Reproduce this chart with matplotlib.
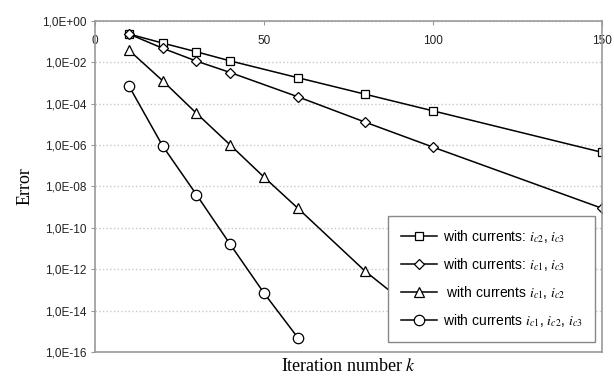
import numpy as np
import matplotlib.pyplot as plt
from matplotlib.ticker import FixedLocator, FuncFormatter

plt.rcParams['mathtext.fontset'] = 'stix'

# iteration numbers
k_sq = [10, 20, 30, 40, 60, 80, 100, 150]
k_di = [10, 20, 30, 40, 60, 80, 100, 150]
k_tr = [10, 20, 30, 40, 50, 60, 80, 100]
k_ci = [10, 20, 30, 40, 50, 60]

# log10 of the error
log_sq = [-0.64, -1.08, -1.5, -1.94, -2.75, -3.55, -4.35, -6.35]
log_di = [-0.64, -1.33, -1.95, -2.5, -3.67, -4.9, -6.1, -9.05]
log_tr = [-1.42, -2.9, -4.47, -6.0, -7.55, -9.05, -12.1, -14.7]
log_ci = [-3.15, -6.05, -8.4, -10.8, -13.15, -15.3]

labels = [r'with currents: $i_{c2}$, $i_{c3}$',
          r'with currents: $i_{c1}$, $i_{c3}$',
          r' with currents $i_{c1}$, $i_{c2}$',
          r'with currents $i_{c1}$, $i_{c2}$, $i_{c3}$']

fig = plt.figure(figsize=(6.14, 3.77), dpi=100)
ax = fig.add_axes([0.155, 0.066, 0.825, 0.879])

series = [(k_sq, log_sq, 's', 6), (k_di, log_di, 'D', 5.2),
          (k_tr, log_tr, '^', 6.5), (k_ci, log_ci, 'o', 7.5)]
for (k, lg, m, ms), lab in zip(series, labels):
    ax.plot(k, 10 ** np.array(lg), color='black', lw=1.1, marker=m, ms=ms,
            mfc='white', mec='black', mew=0.9, label=lab)

ax.set_yscale('log')
ax.set_ylim(1e-16, 1)
ax.set_xlim(0, 150)

yt = [10.0 ** e for e in range(0, -17, -2)]
ax.yaxis.set_major_locator(FixedLocator(yt))
ax.yaxis.set_minor_locator(FixedLocator([]))
ax.yaxis.set_major_formatter(FuncFormatter(
    lambda v, p: '1,0E' + ('+' if np.log10(v) >= 0 else '-') + '%02d' % abs(round(np.log10(v)))))
ax.grid(axis='y', color='#c8c8c8', ls=':', lw=1)

ax.set_xticks([0, 50, 100, 150])
ax.tick_params(axis='x', top=True, bottom=False, labeltop=True, labelbottom=False,
               direction='in', length=3, pad=-19, color='#999999')
ax.tick_params(axis='y', direction='out', length=3, color='#999999')
for lab in ax.get_xticklabels() + ax.get_yticklabels():
    lab.set_fontfamily('Liberation Sans')
    lab.set_fontsize(8.5)
    lab.set_color('#222222')

for s in ax.spines.values():
    s.set_color('#999999')
    s.set_linewidth(1.2)

ax.set_ylabel('Error', family='Liberation Serif', fontsize=13, labelpad=6)
ax.set_xlabel(r'Iteration number $k$', family='Liberation Serif', fontsize=13, labelpad=4)

leg = ax.legend(loc='lower right', bbox_to_anchor=(1.0, 0.01), prop={'family': 'Liberation Sans', 'size': 10},
                fancybox=False, framealpha=1, edgecolor='#888888', handlelength=2.6,
                handletextpad=0.4, labelspacing=0.8, borderpad=0.9)
leg.get_frame().set_linewidth(1.0)
leg.set_zorder(5)

fig.savefig('out.png', dpi=100)
